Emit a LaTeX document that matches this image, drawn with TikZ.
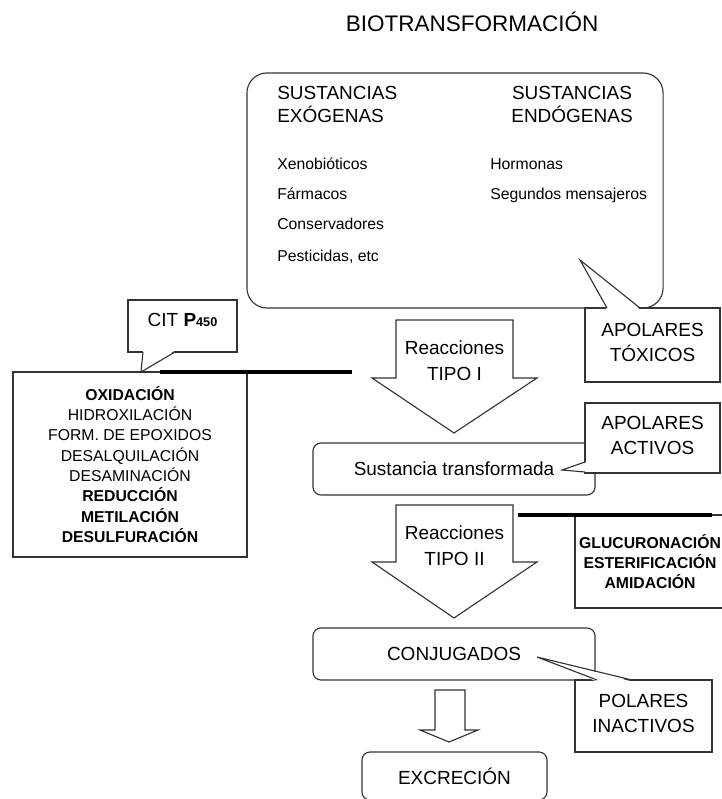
\documentclass[tikz,border=0pt]{standalone}
\usepackage{fontspec}
\setmainfont{Liberation Sans}

\begin{document}
\begin{tikzpicture}[x=0.025cm, y=-0.025cm]

	\tikzstyle{round_box}=[rectangle, rounded corners=0.2cm, draw=black!80, line width=0.8pt, fill=white, font=\fontsize{13.5}{17.8}\selectfont]
	\tikzstyle{list_box}=[rectangle, draw=black!80, line width=0.8pt, fill=white, align=center, inner sep=0pt]
	\tikzstyle{note_box}=[rectangle, draw=black!80, line width=0.8pt, fill=white, align=center, font=\fontsize{13.5}{17.8}\selectfont]
	\tikzstyle{pointer_line}=[draw=black!80, line width=0.8pt, line join=miter]
	\tikzstyle{reaction_arrow}=[draw=black!80, line width=0.8pt, fill=white]
	\tikzstyle{bar_line}=[line width=2.8pt, black]
	\tikzstyle{big_text}=[inner sep=0pt, font=\fontsize{13.5}{16.4}\selectfont]
	\tikzstyle{small_text}=[inner sep=0pt, anchor=base west, font=\fontsize{11.2}{13}\selectfont]
	\tikzstyle{arrow_text}=[inner sep=0pt, align=center, font=\fontsize{13.5}{17.8}\selectfont]

	\useasboundingbox (0,0) rectangle (721,799);

	% Title
	\node[inner sep=0pt, font=\fontsize{16}{18}\selectfont] at (472,22) (title) {BIOTRANSFORMACIÓN};

	% Substances
	\node[rectangle, rounded corners=0.5cm, draw=black!80, line width=0.8pt, minimum width=10.4cm, minimum height=5.875cm] at (455,190.5) (substances) {};
	\node[big_text, anchor=west, align=left] at (277,104.7) (exogenous) {SUSTANCIAS\\EXÓGENAS};
	\node[big_text, align=center] at (572,104.7) (endogenous) {SUSTANCIAS\\ENDÓGENAS};
	\node[small_text] at (277,170) (xeno) {Xenobióticos};
	\node[small_text] at (277,200) (drugs) {Fármacos};
	\node[small_text] at (277,230) (preservers) {Conservadores};
	\node[small_text] at (277,262) (pesticides) {Pesticidas, etc};
	\node[small_text] at (490,170) (hormones) {Hormonas};
	\node[small_text] at (490,200) (messengers) {Segundos mensajeros};

	\node[note_box, minimum width=3.375cm, minimum height=1.85cm, text depth=4.2pt] at (652.5,345) (apolar_toxic) {APOLARES\\TÓXICOS};
	\fill[white] (607,309.5) -- (580,260) -- (640,309.5) -- cycle;
	\draw[pointer_line] (607,308) -- (580,260) -- (640,308);

	% Type I reactions
	\node[list_box, minimum width=5.85cm, minimum height=4.625cm, font=\fontsize{11.2}{14.5}\selectfont] at (130,464.5) (reactions_one) {\textbf{OXIDACIÓN}\\HIDROXILACIÓN\\FORM. DE EPOXIDOS\\DESALQUILACIÓN\\DESAMINACIÓN\\\textbf{REDUCCIÓN}\\\textbf{METILACIÓN}\\\textbf{DESULFURACIÓN}};
	\node[note_box, minimum width=2.725cm, minimum height=1.3cm, text depth=8.6pt] at (182.5,326) (cyt) {CIT {\bfseries P}{\fontsize{9}{9}\selectfont\bfseries 450}};
	\fill[white] (143,350.5) -- (141,372) -- (175,350.5) -- cycle;
	\draw[pointer_line] (143,352) -- (141,372) -- (175,352);

	\coordinate (bar_one_start) at (160,372);
	\coordinate (bar_one_end) at (352,372);
	\draw[bar_line] (bar_one_start) -- (bar_one_end);

	\draw[reaction_arrow] (396,320) -- (513,320) -- (513,378) -- (537,378) -- (454,433) -- (372,378) -- (396,378) -- cycle;
	\node[arrow_text] at (454.5,360.7) (type_one) {Reacciones\\TIPO I};

	\node[round_box, minimum width=7.05cm, minimum height=1.3cm] at (454,469) (transformed) {Sustancia transformada};
	\node[note_box, minimum width=3.375cm, minimum height=1.75cm, text depth=4.2pt] at (652.5,438) (apolar_active) {APOLARES\\ACTIVOS};
	\fill[white] (586.5,462) -- (562,470) -- (586.5,472) -- cycle;
	\draw[pointer_line] (585,462) -- (562,470) -- (585,472);

	% Type II reactions
	\draw[reaction_arrow] (396,505) -- (513,505) -- (513,562) -- (537,562) -- (454,618) -- (372,562) -- (396,562) -- cycle;
	\node[arrow_text] at (454.5,545.7) (type_two) {Reacciones\\TIPO II};

	\node[list_box, minimum width=3.75cm, minimum height=2.325cm, font=\fontsize{11.2}{14.2}\selectfont\bfseries] at (650,561.5) (reactions_two) {GLUCURONACIÓN\\ESTERIFICACIÓN\\AMIDACIÓN};
	\coordinate (bar_two_start) at (518,515);
	\coordinate (bar_two_end) at (712,515);
	\draw[bar_line] (bar_two_start) -- (bar_two_end);

	\node[round_box, minimum width=7.05cm, minimum height=1.3cm] at (454,654) (conjugates) {CONJUGADOS};
	\node[note_box, minimum width=3.425cm, minimum height=1.8cm, text depth=4.2pt] at (643.5,716) (polar_inactive) {POLARES\\INACTIVOS};
	\fill[white] (597,681.5) -- (537,657) -- (632,681.5) -- cycle;
	\draw[pointer_line] (597,680) -- (537,657) -- (632,680);

	% Excretion
	\draw[reaction_arrow] (435,690) -- (465,690) -- (465,730) -- (478,730) -- (449,742) -- (420,730) -- (435,730) -- cycle;
	\node[round_box, minimum width=4.625cm, minimum height=1.2cm] at (454.5,776) (excretion) {EXCRECIÓN};

\end{tikzpicture}
\end{document}
